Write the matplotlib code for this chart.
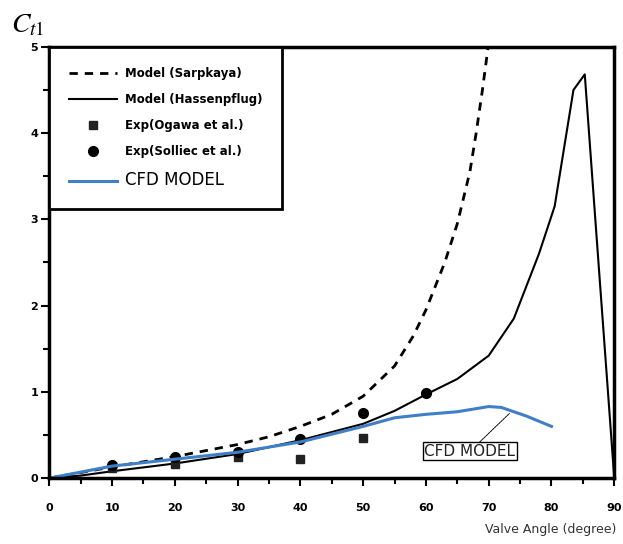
import numpy as np
import matplotlib.pyplot as plt
from matplotlib.ticker import MultipleLocator

plt.rcParams['mathtext.fontset'] = 'stix'

# 곡선 데이터
sarp_x = [0, 10, 20, 30, 35, 40, 45, 50, 55, 58, 60, 63, 65, 67, 68, 69, 70]
sarp_y = [0, 0.13, 0.25, 0.39, 0.48, 0.6, 0.74, 0.95, 1.3, 1.65, 1.95, 2.5, 2.95, 3.55, 4.0, 4.5, 5.05]

hass_x = [0, 5, 10, 20, 30, 40, 50, 55, 60, 65, 70, 74, 78, 80.5, 83.5, 85.3, 87.2, 90]
hass_y = [0, 0.03, 0.08, 0.17, 0.28, 0.44, 0.63, 0.78, 0.97, 1.15, 1.42, 1.85, 2.6, 3.15, 4.5, 4.68, 2.78, 0]

cfd_x = [0, 10, 20, 30, 40, 50, 55, 60, 65, 70, 72, 76, 80]
cfd_y = [0, 0.14, 0.22, 0.3, 0.42, 0.6, 0.7, 0.74, 0.77, 0.83, 0.82, 0.72, 0.6]

# 실험값
ogawa_x = [10, 20, 30, 40, 50]
ogawa_y = [0.12, 0.17, 0.24, 0.22, 0.47]
solliec_x = [10, 20, 30, 40, 50, 60]
solliec_y = [0.15, 0.25, 0.3, 0.45, 0.76, 0.99]

fig = plt.figure(figsize=(6.23, 5.44), dpi=100)
ax = fig.add_axes([0.079, 0.121, 0.907, 0.793])

ax.plot(sarp_x, sarp_y, 'k--', lw=2, dashes=(3, 2.5), label='Model (Sarpkaya)')
ax.plot(hass_x, hass_y, 'k-', lw=1.5, label='Model (Hassenpflug)')
ax.plot(ogawa_x, ogawa_y, 's', color='#222222', ms=6, ls='none', label='Exp(Ogawa et al.)')
ax.plot(solliec_x, solliec_y, 'o', color='black', ms=7, ls='none', label='Exp(Solliec et al.)')
ax.plot(cfd_x, cfd_y, '-', color='#3f7fc8', lw=2.2, label='CFD MODEL')

ax.set_xlim(0, 90)
ax.set_ylim(0, 5)
ax.xaxis.set_major_locator(MultipleLocator(10))
ax.xaxis.set_minor_locator(MultipleLocator(5))
ax.yaxis.set_major_locator(MultipleLocator(1))
ax.yaxis.set_minor_locator(MultipleLocator(0.5))
ax.tick_params(which='both', direction='out', width=1.5)
ax.tick_params(axis='x', which='major', length=6, pad=12, labelsize=8)
ax.tick_params(axis='x', which='minor', length=4)
ax.tick_params(axis='y', which='major', length=6, pad=2, labelsize=8)
ax.tick_params(axis='y', which='minor', length=4)
for lab in ax.get_xticklabels() + ax.get_yticklabels():
    lab.set_fontweight('bold')
for s in ax.spines.values():
    s.set_linewidth(2.5)

leg = ax.legend(loc='upper left', bbox_to_anchor=(0, 1), borderaxespad=0,
                frameon=True, fancybox=False, edgecolor='black', framealpha=1,
                prop={'size': 8.5, 'weight': 'bold'}, handlelength=4,
                labelspacing=1.1, borderpad=1.7, handletextpad=0.7)
leg.get_frame().set_linewidth(2)
leg.get_texts()[-1].set_fontsize(12)
leg.get_texts()[-1].set_fontweight('normal')

ax.annotate('CFD MODEL', xy=(73.3, 0.75), xytext=(67, 0.31), fontsize=11,
            ha='center', va='center', color='#222222',
            bbox=dict(boxstyle='square,pad=0.1', fc='white', ec='black', lw=1),
            arrowprops=dict(arrowstyle='-', lw=0.7, ls=(0, (2, 1)), color='black',
                            shrinkA=0, shrinkB=0))

fig.text(0.018, 0.94, r'$C_{t\mathit{1}}$', fontsize=20)
fig.text(0.99, 0.02, 'Valve Angle (degree)', fontsize=9, ha='right', color='#333333')

fig.savefig('out.png', dpi=100)
